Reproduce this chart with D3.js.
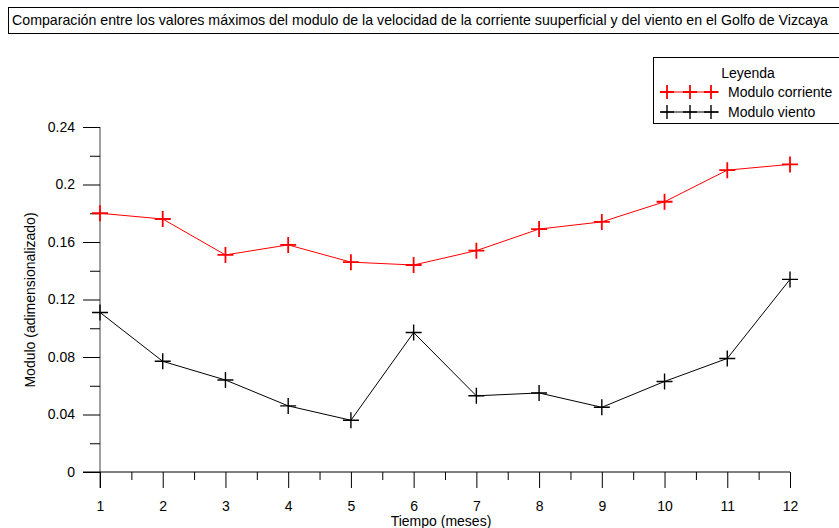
<!DOCTYPE html>
<html>
<head>
<meta charset="utf-8">
<script src="https://cdn.jsdelivr.net/npm/d3@7"></script>
<style>
  body { margin: 0; background: #fff; }
  svg { display: block; font-family: "Liberation Sans", Arial, sans-serif; }
</style>
</head>
<body>
<svg width="839" height="528"></svg>
<script>
const months = [1, 2, 3, 4, 5, 6, 7, 8, 9, 10, 11, 12];
const corriente = [0.180, 0.176, 0.151, 0.158, 0.146, 0.144, 0.154, 0.169, 0.174, 0.188, 0.210, 0.214];
const viento = [0.111, 0.077, 0.064, 0.046, 0.036, 0.097, 0.053, 0.055, 0.045, 0.063, 0.079, 0.134];
const yTicks = [0, 0.04, 0.08, 0.12, 0.16, 0.2, 0.24];

const svg = d3.select('svg');
const x = d3.scaleLinear().domain([1, 12]).range([100, 790]);
const y = d3.scaleLinear().domain([0, 0.24]).range([472, 127]);

// title box
svg.append('rect').attr('x', 8.5).attr('y', 7.5).attr('width', 840).attr('height', 26)
  .attr('fill', 'none').attr('stroke', '#000');
svg.append('text').attr('x', 12).attr('y', 25).attr('font-size', 14.2)
  .text('Comparación entre los valores máximos del modulo de la velocidad de la corriente suuperficial y del viento en el Golfo de Vizcaya');

// y axis
const yAxis = svg.append('g').attr('transform', 'translate(100,0)')
  .call(d3.axisLeft(y).tickValues(yTicks).tickFormat(d => d3.format('')(+d.toFixed(2))).tickSize(17).tickPadding(8));
svg.append('g').attr('transform', 'translate(100,0)')
  .call(d3.axisLeft(y).tickValues(d3.range(0.02, 0.24, 0.04)).tickFormat('').tickSize(10))
  .call(g => g.select('.domain').remove());
yAxis.select('.domain').attr('d', 'M0,127V488').attr('stroke', '#808080').attr('stroke-width', 1.5);
yAxis.selectAll('text').attr('font-size', 14).attr('fill', '#000').attr('font-family', null);

// x axis
const xAxis = svg.append('g').attr('transform', 'translate(0,472)')
  .call(d3.axisBottom(x).tickValues(months).tickFormat(d3.format('d')).tickSize(16).tickPadding(13));
svg.append('g').attr('transform', 'translate(0,472)')
  .call(d3.axisBottom(x).tickValues(d3.range(1.5, 12, 1)).tickFormat('').tickSize(8))
  .call(g => g.select('.domain').remove());
xAxis.select('.domain').attr('d', 'M83,0H790');
xAxis.selectAll('text').attr('font-size', 14).attr('fill', '#000').attr('font-family', null);

// axis titles
svg.append('text').attr('x', 441).attr('y', 526).attr('text-anchor', 'middle')
  .attr('font-size', 14).text('Tiempo (meses)');
svg.append('text').attr('transform', 'translate(35,300) rotate(-90)').attr('text-anchor', 'middle')
  .attr('font-size', 14).text('Modulo (adimensionalizado)');

// series
const series = [
  { name: 'Modulo corriente', values: corriente, color: '#ff0000', mw: 1.8 },
  { name: 'Modulo viento', values: viento, color: '#000000', mw: 1.4 }
];
const line = d3.line().x((d, i) => x(months[i])).y(d => y(d));

function plus(g, cx, cy, color, w, r) {
  g.append('path').attr('d', `M${cx - r},${cy}H${cx + r}M${cx},${cy - r}V${cy + r}`)
    .attr('stroke', color).attr('stroke-width', w).attr('fill', 'none');
}

series.forEach(s => {
  svg.append('path').datum(s.values).attr('d', line)
    .attr('fill', 'none').attr('stroke', s.color).attr('stroke-width', 1);
  const g = svg.append('g');
  s.values.forEach((v, i) => plus(g, x(months[i]), y(v), s.color, s.mw, 8));
});

// legend
const lg = svg.append('g');
lg.append('rect').attr('x', 653.5).attr('y', 57.5).attr('width', 200).attr('height', 66)
  .attr('fill', '#fff').attr('stroke', '#000');
lg.append('text').attr('x', 748).attr('y', 78).attr('text-anchor', 'middle').attr('font-size', 14).text('Leyenda');
series.forEach((s, k) => {
  const ly = 92 + k * 20;
  lg.append('path').attr('d', `M661,${ly}H719`).attr('stroke', s.color).attr('stroke-width', 1);
  [667, 690, 711].forEach(cx => plus(lg, cx, ly, s.color, s.mw, 7));
  lg.append('text').attr('x', 728).attr('y', ly + 5).attr('font-size', 14).text(s.name);
});
</script>
</body>
</html>
